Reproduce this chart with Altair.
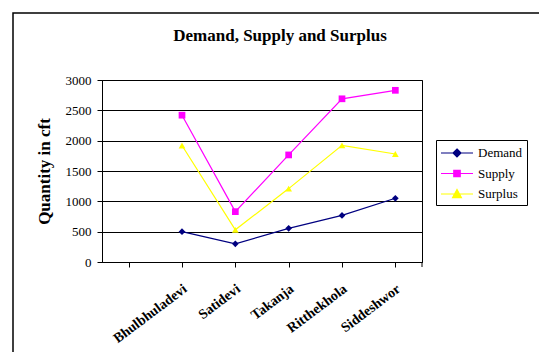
import altair as alt
import pandas as pd

categories = ["Bhulbhuladevi", "Satidevi", "Takanja", "Ritthekhola", "Siddeshwor"]
x_domain = [" "] + categories
series_names = ["Demand", "Supply", "Surplus"]
demand = [500, 300, 555, 768, 1050]
supply = [2420, 830, 1765, 2690, 2830]
surplus = [1920, 530, 1210, 1922, 1780]
colors = ["#000080", "#FF00FF", "#FFFF00"]
y_ticks = [0, 500, 1000, 1500, 2000, 2500, 3000]

rows = []
for name, vals in zip(series_names, [demand, supply, surplus]):
    for c, v in zip(categories, vals):
        rows.append({"Site": c, "Series": name, "Value": v})
df = pd.DataFrame(rows)
one = pd.DataFrame({"k": [0]})

FONT = "Liberation Serif, Times New Roman, DejaVu Serif, serif"

x_enc = alt.X("Site:N", scale=alt.Scale(domain=x_domain, paddingInner=0, paddingOuter=0),
              axis=alt.Axis(title=None, bandPosition=0, labelOffset=3, labelAngle=-37,
                            labelAlign="right", labelBaseline="middle", labelPadding=20,
                            labelFontSize=14, labelFontWeight="bold", labelFont=FONT,
                            tickSize=5, grid=False, labelOverlap=False, domainColor="black",
                            tickColor="black", labelColor="black"))
y_enc = alt.Y("Value:Q", scale=alt.Scale(domain=[0, 3000], nice=False),
              axis=alt.Axis(values=y_ticks, format="d", grid=True, gridColor="black", gridWidth=1,
                            tickSize=5, tickColor="black", domainColor="black",
                            labelFontSize=13, labelFont=FONT, labelPadding=6, labelColor="black",
                            title="Quantity in cft", titleFontSize=17, titleFontWeight="bold",
                            titleFont=FONT, titleColor="black", titleX=-58, titleY=91,
                            titleAngle=-90, titleAlign="center", titleBaseline="middle"))
col_plain = alt.Color("Series:N", scale=alt.Scale(domain=series_names, range=colors), legend=None)

frame = alt.Chart(one).mark_rect(fillOpacity=0, stroke="black", strokeWidth=1.5).encode(
    x=alt.value(-89), x2=alt.value(700), y=alt.value(-67), y2=alt.value(500))

lines = alt.Chart(df).mark_line(strokeWidth=1.2).encode(
    x=x_enc, y=y_enc, color=col_plain, detail="Series:N")

points = alt.Chart(df).mark_point(filled=True, opacity=1, size=45).encode(
    x=x_enc, y=y_enc, color=col_plain,
    shape=alt.Shape("Series:N", scale=alt.Scale(domain=series_names,
                    range=["diamond", "square", "triangle-up"]), legend=None))

legend_paths = [
    "M-1,0H3M1,-0.5L1.5,0L1,0.5L0.5,0Z",
    "M-1,0H3M0.6,-0.4H1.4V0.4H0.6Z",
    "M-1,0H3M1,-0.55L1.55,0.45L0.45,0.45Z",
]
leg = alt.Legend(title=None, orient="none", legendX=334, legendY=60, padding=4,
                 strokeColor="black", fillColor="white", symbolSize=256,
                 symbolStrokeWidth=1.2, labelOffset=20, rowPadding=4.5,
                 labelFont=FONT, labelFontSize=13, labelColor="black",
                 labelExpr="datum.label + '            '")
legend_layer = alt.Chart(df).mark_point(filled=True, opacity=1, size=256, strokeWidth=1.2).encode(
    x=x_enc, y=y_enc,
    color=alt.Color("Series:N", scale=alt.Scale(domain=series_names, range=colors), legend=leg),
    stroke=alt.Stroke("Series:N", scale=alt.Scale(domain=series_names, range=colors), legend=leg),
    shape=alt.Shape("Series:N", scale=alt.Scale(domain=series_names, range=legend_paths), legend=leg),
).transform_filter("false")

end_tick = alt.Chart(one).mark_rule(color="black").encode(
    x=alt.value(320), y=alt.value(182), y2=alt.value(187))

chart = alt.layer(frame, lines, points, legend_layer, end_tick).resolve_scale(
    color="independent", shape="independent", stroke="independent"
).properties(
    width=320, height=182,
    title=alt.TitleParams("Demand, Supply and Surplus", font=FONT, fontSize=17, fontWeight="bold",
                          color="black", dx=18, dy=46, offset=0, baseline="alphabetic", frame="group"),
    autosize=alt.AutoSizeParams(type="none"),
    padding={"left": 102, "top": 80, "right": 117, "bottom": 90},
    background="white",
).configure_view(stroke="black", strokeWidth=1)

chart.save("out.html", embed_options={"renderer": "svg", "actions": False})
